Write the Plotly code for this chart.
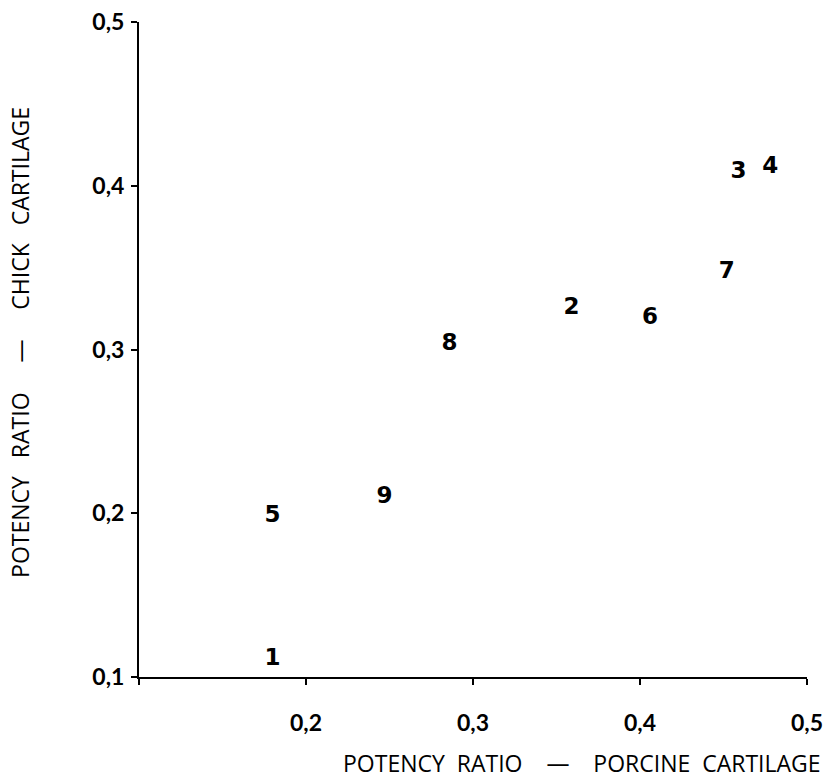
import plotly.graph_objects as go

# Potency ratios of the numbered preparations, measured on two cartilage assays
labels = ["1", "2", "3", "4", "5", "6", "7", "8", "9"]
porcine = [0.180, 0.359, 0.459, 0.478, 0.180, 0.406, 0.452, 0.286, 0.247]
chick = [0.111, 0.325, 0.408, 0.411, 0.198, 0.319, 0.347, 0.303, 0.210]

tick_vals = [0.1, 0.2, 0.3, 0.4, 0.5]
x_tick_text = ["", "0,2", "0,3", "0,4", "0,5"]
y_tick_text = ["0,1", "0,2", "0,3", "0,4", "0,5"]

font_family = "Lato, 'DejaVu Sans', sans-serif"
title_family = "'Open Sans', 'DejaVu Sans', sans-serif"

SP = "\u00a0"  # non-breaking space keeps the wide gaps between words


def spaced(words, gaps):
    out = words[0]
    for w, g in zip(words[1:], gaps):
        out += SP * g + w
    return out


x_title = spaced(["POTENCY", "RATIO", "\u2014", "PORCINE", "CARTILAGE"], [2, 4, 4, 2])
y_title = spaced(["POTENCY", "RATIO", "\u2014", "CHICK", "CARTILAGE"], [3, 5, 5, 3])

fig = go.Figure(
    go.Scatter(
        x=porcine,
        y=chick,
        mode="text",
        text=labels,
        textposition="middle center",
        textfont=dict(family="'DejaVu Sans', sans-serif", size=23, color="black", weight="bold"),
        hoverinfo="skip",
    )
)

axis_common = dict(
    showgrid=False,
    zeroline=False,
    showline=True,
    linecolor="black",
    linewidth=2,
    ticks="outside",
    ticklen=6,
    tickwidth=2,
    tickcolor="black",
    tickvals=tick_vals,
    automargin=False,
    tickfont=dict(family=font_family, size=23, color="black", weight="bold"),
)

fig.update_xaxes(range=[0.1, 0.5], ticktext=x_tick_text, ticklabelstandoff=18, **axis_common)
fig.update_yaxes(range=[0.1, 0.5], ticktext=y_tick_text, ticklabelstandoff=2, **axis_common)

fig.update_layout(
    width=825,
    height=782,
    margin=dict(l=139, r=18, t=22, b=105),
    paper_bgcolor="white",
    plot_bgcolor="white",
    showlegend=False,
    annotations=[
        dict(
            text=x_title,
            xref="paper", yref="paper",
            x=1.0, y=0, xshift=16, yshift=-68,
            xanchor="right", yanchor="top",
            showarrow=False,
            font=dict(family=title_family, size=23, color="black"),
        ),
        dict(
            text=y_title,
            xref="paper", yref="paper",
            x=0, y=0.51, xshift=-119,
            xanchor="center", yanchor="middle",
            textangle=-90,
            showarrow=False,
            font=dict(family=title_family, size=23, color="black"),
        ),
    ],
)

fig.write_html("out.html")
